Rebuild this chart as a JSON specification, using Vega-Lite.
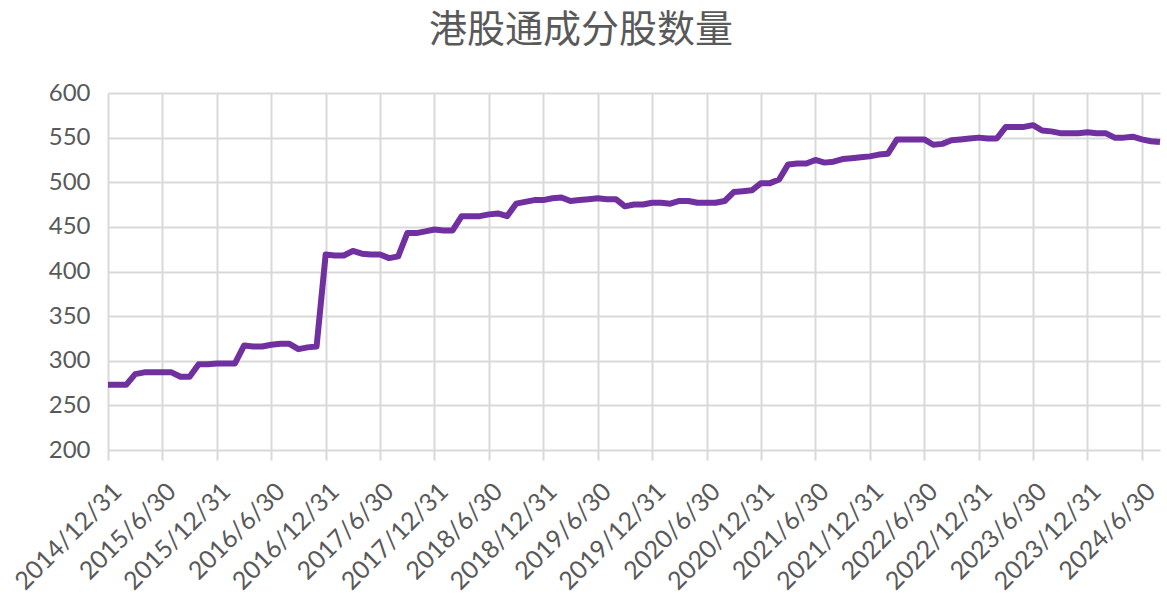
{
  "$schema": "https://vega.github.io/schema/vega-lite/v6.json",
  "width": 1052,
  "height": 357,
  "autosize": {"type": "none"},
  "padding": {"left": 108, "top": 93, "right": 7, "bottom": 147},
  "background": "white",
  "title": {
    "text": "港股通成分股数量",
    "font": "Noto Sans CJK SC",
    "fontSize": 38,
    "fontWeight": "normal",
    "color": "#595959",
    "anchor": "middle",
    "dx": -53,
    "offset": 31
  },
  "config": {
    "view": {"stroke": null},
    "axis": {
      "labelFont": "Lato",
      "labelFontSize": 24,
      "labelColor": "#595959",
      "gridColor": "#d9d9d9",
      "gridWidth": 2,
      "domain": false,
      "title": null
    }
  },
  "data": {
    "values": [
      {"date": "2014/12/31", "count": 273},
      {"date": "2015/1/31", "count": 273},
      {"date": "2015/2/28", "count": 273},
      {"date": "2015/3/31", "count": 285},
      {"date": "2015/4/30", "count": 287},
      {"date": "2015/5/31", "count": 287},
      {"date": "2015/6/30", "count": 287},
      {"date": "2015/7/31", "count": 287},
      {"date": "2015/8/31", "count": 282},
      {"date": "2015/9/30", "count": 282},
      {"date": "2015/10/31", "count": 296},
      {"date": "2015/11/30", "count": 296},
      {"date": "2015/12/31", "count": 297},
      {"date": "2016/1/31", "count": 297},
      {"date": "2016/2/29", "count": 297},
      {"date": "2016/3/31", "count": 317},
      {"date": "2016/4/30", "count": 316},
      {"date": "2016/5/31", "count": 316},
      {"date": "2016/6/30", "count": 318},
      {"date": "2016/7/31", "count": 319},
      {"date": "2016/8/31", "count": 319},
      {"date": "2016/9/30", "count": 313},
      {"date": "2016/10/31", "count": 315},
      {"date": "2016/11/30", "count": 316},
      {"date": "2016/12/31", "count": 419},
      {"date": "2017/1/31", "count": 418},
      {"date": "2017/2/28", "count": 418},
      {"date": "2017/3/31", "count": 423},
      {"date": "2017/4/30", "count": 420},
      {"date": "2017/5/31", "count": 419},
      {"date": "2017/6/30", "count": 419},
      {"date": "2017/7/31", "count": 415},
      {"date": "2017/8/31", "count": 417},
      {"date": "2017/9/30", "count": 443},
      {"date": "2017/10/31", "count": 443},
      {"date": "2017/11/30", "count": 445},
      {"date": "2017/12/31", "count": 447},
      {"date": "2018/1/31", "count": 446},
      {"date": "2018/2/28", "count": 446},
      {"date": "2018/3/31", "count": 462},
      {"date": "2018/4/30", "count": 462},
      {"date": "2018/5/31", "count": 462},
      {"date": "2018/6/30", "count": 464},
      {"date": "2018/7/31", "count": 465},
      {"date": "2018/8/31", "count": 462},
      {"date": "2018/9/30", "count": 476},
      {"date": "2018/10/31", "count": 478},
      {"date": "2018/11/30", "count": 480},
      {"date": "2018/12/31", "count": 480},
      {"date": "2019/1/31", "count": 482},
      {"date": "2019/2/28", "count": 483},
      {"date": "2019/3/31", "count": 479},
      {"date": "2019/4/30", "count": 480},
      {"date": "2019/5/31", "count": 481},
      {"date": "2019/6/30", "count": 482},
      {"date": "2019/7/31", "count": 481},
      {"date": "2019/8/31", "count": 481},
      {"date": "2019/9/30", "count": 473},
      {"date": "2019/10/31", "count": 475},
      {"date": "2019/11/30", "count": 475},
      {"date": "2019/12/31", "count": 477},
      {"date": "2020/1/31", "count": 477},
      {"date": "2020/2/29", "count": 476},
      {"date": "2020/3/31", "count": 479},
      {"date": "2020/4/30", "count": 479},
      {"date": "2020/5/31", "count": 477},
      {"date": "2020/6/30", "count": 477},
      {"date": "2020/7/31", "count": 477},
      {"date": "2020/8/31", "count": 479},
      {"date": "2020/9/30", "count": 489},
      {"date": "2020/10/31", "count": 490},
      {"date": "2020/11/30", "count": 491},
      {"date": "2020/12/31", "count": 499},
      {"date": "2021/1/31", "count": 499},
      {"date": "2021/2/28", "count": 503},
      {"date": "2021/3/31", "count": 520},
      {"date": "2021/4/30", "count": 521},
      {"date": "2021/5/31", "count": 521},
      {"date": "2021/6/30", "count": 525},
      {"date": "2021/7/31", "count": 522},
      {"date": "2021/8/31", "count": 523},
      {"date": "2021/9/30", "count": 526},
      {"date": "2021/10/31", "count": 527},
      {"date": "2021/11/30", "count": 528},
      {"date": "2021/12/31", "count": 529},
      {"date": "2022/1/31", "count": 531},
      {"date": "2022/2/28", "count": 532},
      {"date": "2022/3/31", "count": 548},
      {"date": "2022/4/30", "count": 548},
      {"date": "2022/5/31", "count": 548},
      {"date": "2022/6/30", "count": 548},
      {"date": "2022/7/31", "count": 542},
      {"date": "2022/8/31", "count": 543},
      {"date": "2022/9/30", "count": 547},
      {"date": "2022/10/31", "count": 548},
      {"date": "2022/11/30", "count": 549},
      {"date": "2022/12/31", "count": 550},
      {"date": "2023/1/31", "count": 549},
      {"date": "2023/2/28", "count": 549},
      {"date": "2023/3/31", "count": 562},
      {"date": "2023/4/30", "count": 562},
      {"date": "2023/5/31", "count": 562},
      {"date": "2023/6/30", "count": 564},
      {"date": "2023/7/31", "count": 558},
      {"date": "2023/8/31", "count": 557},
      {"date": "2023/9/30", "count": 555},
      {"date": "2023/10/31", "count": 555},
      {"date": "2023/11/30", "count": 555},
      {"date": "2023/12/31", "count": 556},
      {"date": "2024/1/31", "count": 555},
      {"date": "2024/2/29", "count": 555},
      {"date": "2024/3/31", "count": 550},
      {"date": "2024/4/30", "count": 550},
      {"date": "2024/5/31", "count": 551},
      {"date": "2024/6/30", "count": 548},
      {"date": "2024/7/31", "count": 546},
      {"date": "2024/8/31", "count": 545}
    ]
  },
  "mark": {"type": "line", "color": "#7030a0", "strokeWidth": 6, "strokeJoin": "round"},
  "encoding": {
    "x": {
      "field": "date",
      "type": "ordinal",
      "sort": null,
      "scale": {"type": "point", "padding": 0},
      "axis": {
        "values": ["2014/12/31", "2015/6/30", "2015/12/31", "2016/6/30", "2016/12/31", "2017/6/30", "2017/12/31", "2018/6/30", "2018/12/31", "2019/6/30", "2019/12/31", "2020/6/30", "2020/12/31", "2021/6/30", "2021/12/31", "2022/6/30", "2022/12/31", "2023/6/30", "2023/12/31", "2024/6/30"],
        "grid": true,
        "ticks": true,
        "tickSize": 10,
        "tickColor": "#d9d9d9",
        "tickWidth": 2,
        "labelFontSize": 25,
        "labelAngle": -45,
        "labelAlign": "right",
        "labelBaseline": "middle",
        "labelPadding": 27,
        "labelOffset": 9
      }
    },
    "y": {
      "field": "count",
      "type": "quantitative",
      "scale": {"domain": [200, 600], "nice": false, "zero": false},
      "axis": {
        "values": [200, 250, 300, 350, 400, 450, 500, 550, 600],
        "grid": true,
        "ticks": false,
        "labelPadding": 18
      }
    }
  }
}
